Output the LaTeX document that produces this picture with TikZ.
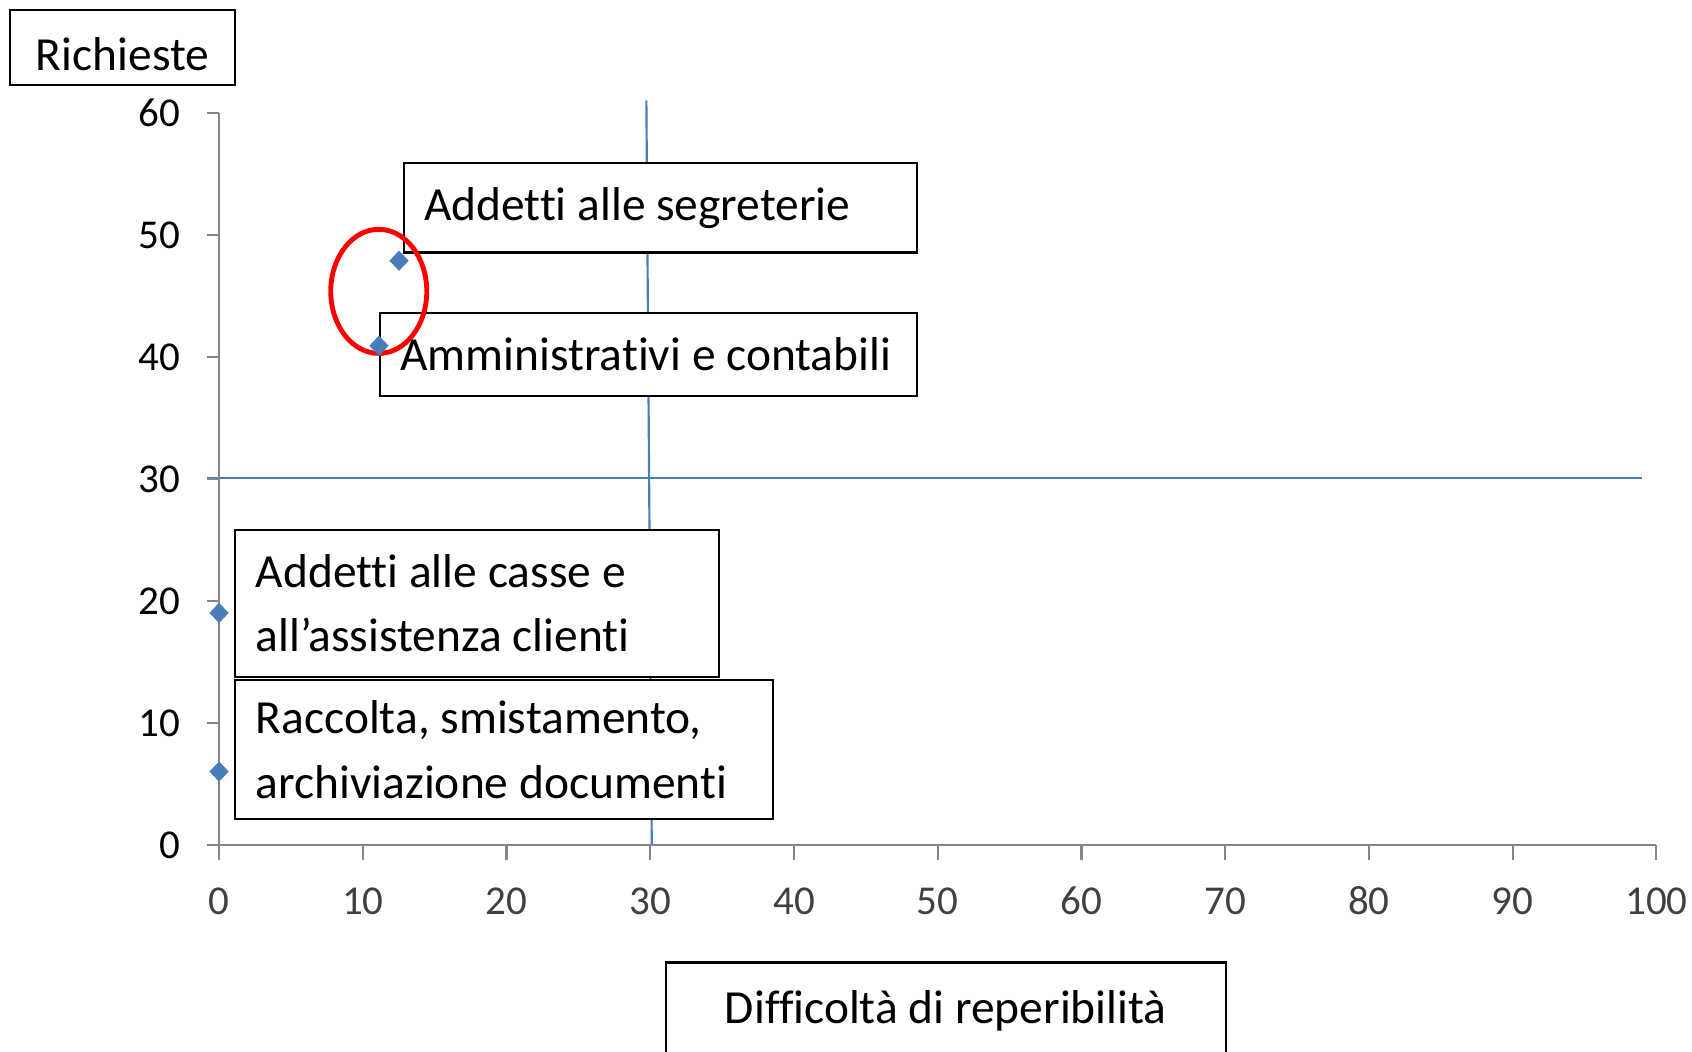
\documentclass[tikz,border=0pt]{standalone}
\usepackage{fontspec}
\setmainfont{Carlito}[Ligatures=NoCommon]
\usepackage{xcolor}
\usetikzlibrary{shapes.geometric, positioning}
\definecolor{serieblue}{HTML}{4A7EBB}
\definecolor{axisgray}{HTML}{868686}
\definecolor{ticktext}{HTML}{404040}

\begin{document}
\begin{tikzpicture}[x=1pt, y=-1pt,
    labelbox/.style={draw, fill=white, line width=2pt, anchor=north west,
        font=\fontsize{44}{60}\selectfont, inner xsep=19pt, inner ysep=0pt, align=left,
        execute at begin node={\spaceskip=0pt\xspaceskip=0pt}},
    datapt/.style={diamond, fill=serieblue, inner sep=0pt, minimum width=18pt, minimum height=19pt},
    guide/.style={serieblue, line width=2pt},
    ytick/.style={anchor=east, inner sep=0pt, font=\fontsize{38}{38}\selectfont},
    xtick/.style={anchor=center, inner sep=0pt, text=ticktext, font=\fontsize{38}{38}\selectfont}]
    \useasboundingbox (0,0) rectangle (1568,974);

    % quadrant lines
    \draw[guide] (192,443) -- (1522,443);
    \draw[guide] (599,93) -- (604,783);

    % axes
    \draw[axisgray, line width=2pt] (203,105) -- (203,783) -- (1535,783);
    \foreach \i [evaluate=\i as \v using int(10*\i)] in {0,...,6} {
        \draw[axisgray, line width=2pt] (192,{783-113*\i}) -- (203,{783-113*\i});
        \node[ytick] (yt\i) at (167,{783-113*\i}) {\v};
    }
    \foreach \i [evaluate=\i as \v using int(10*\i)] in {0,...,10} {
        \draw[axisgray, line width=2pt] ({203+133.2*\i},783) -- ({203+133.2*\i},797);
        \node[xtick] (xt\i) at ({203+133.2*\i},835) {\v};
    }

    % axis titles
    \node[labelbox, inner xsep=0pt, align=center, minimum width=209pt, minimum height=70pt,
        text height=43pt, text depth=0pt] (richieste) at (8,8) {Richieste};
    \node[labelbox, inner xsep=0pt, align=center, minimum width=519pt, minimum height=90pt] (difficolta) at (616,891) {Difficoltà di reperibilità};

    % point labels
    \node[labelbox, text width=438pt, minimum height=83pt] (segreterie) at (373,150) {\mbox{Addetti alle segreterie}};
    \node[labelbox, text width=460pt, minimum height=77pt] (amministrativi) at (351,289) {\mbox{Amministrativi e contabili}};
    \node[labelbox, text width=410pt, minimum height=136pt] (casse) at (217,490) {Addetti alle casse e\\all’assistenza clienti};
    \node[labelbox, text width=460pt, minimum height=129pt] (raccolta) at (217,629) {Raccolta, smistamento,\\archiviazione documenti};

    % highlight
    \draw[red, line width=4.5pt] (351,270) ellipse [x radius=44.5, y radius=57.5];

    % data points
    \node[datapt] (p1) at (369.8,241.6) {};
    \node[datapt] (p2) at (351.2,320.4) {};
    \node[datapt] (p3) at (203,568) {};
    \node[datapt] (p4) at (203,715) {};
\end{tikzpicture}
\end{document}
